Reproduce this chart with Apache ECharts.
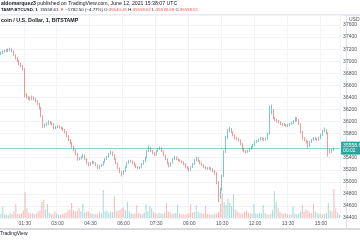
<!DOCTYPE html>
<html><head><meta charset="utf-8">
<script src="https://cdn.jsdelivr.net/npm/echarts@6/dist/echarts.min.js"></script>
<style>html,body{margin:0;padding:0;background:#fff}#c{width:360px;height:240px}</style>
</head><body><div id="c"></div>
<script>
// 5-minute candles from 00:25 (rows: open, close, low, high)
const candles = [
[37120,37136,37100,37160],[37136,37152,37120,37175],[37152,37169,37140,37190],[37169,37186,37150,37205],
[37186,37175,37150,37210],[37175,37202,37160,37225],[37202,37169,37150,37215],[37169,37103,37090,37180],
[37103,37053,37030,37115],[37053,37003,36985,37070],[37003,36953,36930,37020],[36953,36920,36900,36975],
[36920,36870,36850,36940],[36870,36439,36400,36885],[36439,36406,36380,36470],[36406,36390,36360,36430],
[36390,36373,36345,36410],[36373,36406,36355,36430],[36406,36373,36350,36420],[36373,36340,36320,36390],
[36340,36290,36270,36355],[36290,36224,36200,36310],[36224,36091,36070,36240],[36091,35925,35890,36100],
[35925,35942,35900,35965],[35942,35959,35925,35985],[35959,35992,35945,36020],[35992,35975,35955,36010],
[35975,35959,35935,35990],[35959,35892,35870,35970],[35892,35909,35875,35930],[35909,35915,35890,35940],
[35915,35905,35885,35935],[35905,35892,35870,35920],[35892,35859,35840,35905],[35859,35826,35805,35875],
[35826,35760,35740,35840],[35760,35693,35675,35775],[35693,35644,35620,35710],[35644,35577,35555,35660],
[35577,35528,35505,35595],[35528,35461,35440,35545],[35461,35378,35350,35475],[35378,35385,35355,35405],
[35385,35411,35370,35430],[35411,35445,35400,35465],[35445,35378,35360,35455],[35378,35312,35290,35390],
[35312,35279,35255,35325],[35279,35312,35265,35330],[35312,35328,35295,35350],[35328,35312,35290,35345],
[35312,35279,35260,35325],[35279,35229,35205,35290],[35229,35262,35215,35280],[35262,35279,35245,35300],
[35279,35328,35265,35345],[35328,35378,35315,35395],[35378,35411,35365,35430],[35411,35461,35400,35480],
[35461,35494,35450,35515],[35494,35445,35430,35505],[35445,35378,35360,35460],[35378,35312,35290,35390],
[35312,35229,35210,35325],[35229,35163,35140,35240],[35163,35130,35085,35175],[35130,35179,35115,35195],
[35179,35246,35165,35260],[35246,35312,35235,35330],[35312,35345,35300,35365],[35345,35340,35320,35365],
[35340,35312,35295,35355],[35312,35279,35260,35325],[35279,35246,35225,35290],[35246,35229,35205,35260],
[35229,35235,35210,35255],[35235,35295,35225,35310],[35295,35345,35280,35360],[35345,35395,35330,35415],
[35395,35511,35385,35530],[35511,35561,35495,35600],[35561,35511,35495,35575],[35511,35478,35455,35525],
[35478,35445,35425,35490],[35445,35511,35435,35525],[35511,35544,35500,35560],[35544,35561,35530,35585],
[35561,35511,35495,35575],[35511,35445,35425,35525],[35445,35378,35360,35455],[35378,35312,35290,35390],
[35312,35262,35240,35325],[35262,35312,35250,35330],[35312,35378,35300,35395],[35378,35411,35365,35430],
[35411,35378,35360,35425],[35378,35362,35340,35390],[35362,35345,35325,35375],[35345,35328,35305,35360],
[35328,35295,35275,35340],[35295,35246,35225,35310],[35246,35229,35205,35260],[35229,35196,35170,35240],
[35196,35246,35185,35260],[35246,35295,35230,35310],[35295,35362,35280,35380],[35362,35395,35345,35415],
[35395,35345,35330,35405],[35345,35312,35290,35360],[35312,35279,35260,35325],[35279,35246,35225,35290],
[35246,35229,35205,35260],[35229,35220,35200,35245],[35220,35229,35200,35250],[35229,35212,35190,35240],
[35212,35179,35160,35225],[35179,35146,35120,35195],[35146,34997,34960,35160],[34997,34798,34660,35010],
[34798,34864,34720,34900],[34864,35096,34850,35120],[35096,35494,35080,35520],[35494,35726,35480,35760],
[35726,35843,35710,35880],[35843,35876,35820,35910],[35876,35826,35805,35890],[35826,35776,35755,35840],
[35776,35726,35705,35790],[35726,35710,35690,35745],[35710,35693,35670,35725],[35693,35627,35605,35705],
[35627,35544,35520,35640],[35544,35511,35490,35560],[35511,35494,35470,35525],[35494,35511,35480,35530],
[35511,35544,35500,35560],[35544,35577,35530,35595],[35577,35610,35560,35630],[35610,35660,35595,35680],
[35660,35677,35640,35695],[35677,35693,35660,35715],[35693,35726,35680,35745],[35726,35710,35690,35740],
[35710,35693,35675,35725],[35693,35710,35680,35730],[35710,35793,35700,35815],[35793,36158,35780,36260],
[36158,36191,36120,36280],[36191,36058,36040,36205],[36058,36025,36005,36075],[36025,36008,35985,36040],
[36008,35992,35970,36025],[35992,35959,35940,36005],[35959,35942,35920,35970],[35942,35950,35925,35970],
[35950,35925,35905,35960],[35925,35942,35910,35960],[35942,35959,35925,35975],[35959,35975,35945,35995],
[35975,36008,35960,36025],[36008,36058,35995,36075],[36058,36025,36005,36070],[36025,35959,35940,36040],
[35959,35826,35805,35970],[35826,35726,35700,35840],[35726,35693,35670,35740],[35693,35660,35635,35705],
[35660,35594,35560,35675],[35594,35660,35580,35675],[35660,35693,35645,35710],[35693,35726,35680,35745],
[35726,35710,35690,35740],[35710,35693,35675,35725],[35693,35726,35680,35745],[35726,35776,35710,35795],
[35776,35843,35760,35860],[35843,35860,35825,35900],[35860,35809,35790,35875],[35809,35528,35420,35820],
[35528,35494,35470,35545],[35494,35528,35480,35545],[35528,35558.61,35510,35570]
];
const volumes = [
40,110,35,30,25,45,35,60,130,40,35,45,70,
240,90,50,40,45,35,40,60,70,150,170,80,130,50,40,35,60,40,30,30,35,45,50,70,80,140,70,60,65,90,60,130,50,55,60,45,40,35,35,40,55,45,
260,60,70,50,60,55,200,60,65,80,90,100,70,150,60,45,35,40,120,45,40,35,50,130,60,110,90,60,45,40,50,45,40,50,140,60,55,45,40,50,120,
40,35,35,30,40,45,130,50,55,120,60,50,45,40,110,40,35,30,35,40,45,60,130,230,150,120,180,140,110,220,80,60,50,45,40,55,70,50,45,40,
130,45,40,50,45,120,45,35,30,35,70,250,150,90,60,45,40,45,35,30,35,110,40,35,40,60,120,55,80,70,50,45,130,60,45,40,35,35,40,50,140,70,60,270,90,50,30
];
const tickLabels = ['01:30','03:00','04:30','06:00','07:30','09:00','10:30','12:00','13:30','15:00'];
const priceTicks = {min: 34400, max: 37766, step: 200};
const lastPrice = 35558.61;
const countdown = '00:02';

const times = [];
for (let m = 25; m <= 950; m += 5) {
  times.push(String(Math.floor(m / 60)).padStart(2, '0') + ':' + String(m % 60).padStart(2, '0'));
}
const UP = '#26a69a', DOWN = '#ef5350';
const volData = volumes.map((v, i) => ({
  value: v,
  itemStyle: {color: candles[i][1] >= candles[i][0] ? 'rgba(38,166,154,0.38)' : 'rgba(239,83,80,0.38)'}
}));
const showTick = (i, v) => tickLabels.indexOf(v) >= 0;
const FONT = 'Liberation Sans, Arial, sans-serif';

const chart = echarts.init(document.getElementById('c'), null, {renderer: 'canvas'});
chart.setOption({
  animation: false,
  backgroundColor: '#ffffff',
  textStyle: {fontFamily: FONT},
  title: [
    {left: 1, top: 1.5, padding: 0, text: '{b|aldomarquez3} published on TradingView.com, June 12, 2021 15:38:07 UTC',
     textStyle: {fontSize: 5.2, fontWeight: 'normal', color: '#131722', fontFamily: FONT, rich: {b: {fontSize: 5.2, fontWeight: 'bold', color: '#131722', fontFamily: FONT}}}},
    {left: 1, top: 8, padding: 0, text: '{b|TAMP:BTCUSD, 1}  35558.61 {r|▼} −1782.50 (−4.77%) O:{r|35540.45} H:{r|35558.62} L:{r|35539.68} C:{r|35558.61}',
     textStyle: {fontSize: 4.4, fontWeight: 'normal', color: '#131722', fontFamily: FONT,
       rich: {b: {fontSize: 4.4, fontWeight: 'bold', color: '#131722', fontFamily: FONT}, r: {fontSize: 4.4, color: DOWN, fontFamily: FONT}}}},
    {left: 1, top: 18.5, padding: 0, text: 'coin / U.S. Dollar, 1, BITSTAMP',
     textStyle: {fontSize: 5.3, fontWeight: 'bold', color: '#131722', fontFamily: FONT}},
    {left: 349, top: 17.5, padding: 0, text: 'USD',
     textStyle: {fontSize: 5, fontWeight: 'normal', color: '#50535e', fontFamily: FONT}},
    {left: 0, top: 231.5, padding: 0, text: 'TradingView',
     textStyle: {fontSize: 5, fontWeight: 'normal', color: '#131722', fontFamily: FONT}}
  ],
  graphic: [
    {type: 'line', shape: {x1: 0, y1: 15, x2: 360, y2: 15}, style: {stroke: '#d1d4dc', lineWidth: 1}, silent: true},
    {type: 'line', shape: {x1: 0, y1: 229, x2: 360, y2: 229}, style: {stroke: '#b2b5be', lineWidth: 1}, silent: true},
    {type: 'line', shape: {x1: 346.5, y1: 15, x2: 346.5, y2: 229}, style: {stroke: '#e0e3eb', lineWidth: 1}, silent: true}
  ],
  grid: [
    {left: 0, right: 14, top: 15, bottom: 22},
    {left: 0, right: 14, top: 160, bottom: 22}
  ],
  xAxis: [
    {type: 'category', data: times, gridIndex: 0, boundaryGap: true,
     axisLine: {show: false}, axisTick: {show: false},
     axisLabel: {interval: showTick, fontSize: 5, color: '#50535e', margin: 3, fontFamily: FONT},
     splitLine: {show: true, interval: showTick, lineStyle: {color: '#f0f3fa', width: 1}}},
    {type: 'category', data: times, gridIndex: 1, boundaryGap: true, show: false}
  ],
  yAxis: [
    {type: 'value', gridIndex: 0, position: 'right', min: priceTicks.min, max: priceTicks.max, interval: priceTicks.step,
     axisLine: {show: false}, axisTick: {show: false},
     axisLabel: {fontSize: 5, color: '#50535e', margin: 3, showMaxLabel: false, fontFamily: FONT, formatter: v => String(v)},
     splitLine: {show: true, lineStyle: {color: '#f0f3fa', width: 1}}},
    {type: 'value', gridIndex: 1, min: 0, max: 540, show: false}
  ],
  series: [
    {type: 'bar', xAxisIndex: 1, yAxisIndex: 1, data: volData, barWidth: 1.1, silent: true},
    {type: 'candlestick', xAxisIndex: 0, yAxisIndex: 0, data: candles, barWidth: 0.9, silent: true,
     itemStyle: {color: UP, color0: DOWN, borderColor: UP, borderColor0: DOWN, borderWidth: 0.6},
     markLine: {silent: true, symbol: 'none',
       lineStyle: {color: 'rgba(38,166,154,0.5)', type: 'solid', width: 1},
       label: {show: true, position: 'end', distance: 1, formatter: lastPrice.toFixed(2) + '\n' + countdown,
         backgroundColor: UP, color: '#ffffff', fontSize: 5, lineHeight: 5.5, padding: [1, 2, 1, 2], fontFamily: FONT},
       data: [{yAxis: lastPrice}]}}
  ]
});
</script>
</body></html>
